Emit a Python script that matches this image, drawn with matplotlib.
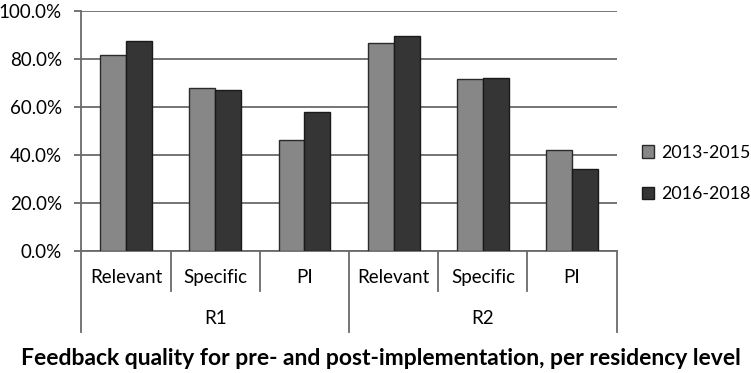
import numpy as np
import matplotlib
matplotlib.use("Agg")
import matplotlib.pyplot as plt
from matplotlib.ticker import PercentFormatter

plt.rcParams['font.family'] = ['Lato', 'DejaVu Sans']

# data
categories = ['Relevant', 'Specific', 'PI', 'Relevant', 'Specific', 'PI']
groups = ['R1', 'R2']
pre_2013_2015 = [0.817, 0.678, 0.461, 0.867, 0.714, 0.421]
post_2016_2018 = [0.875, 0.670, 0.578, 0.896, 0.722, 0.342]
series_names = ['2013-2015', '2016-2018']

fig = plt.figure(figsize=(7.51, 3.73), dpi=100)
ax = fig.add_axes([0.1083, 0.327, 0.7129, 0.6443])

x = np.arange(len(categories))
w = 0.29
ax.bar(x - w / 2, pre_2013_2015, w, color='#878787', edgecolor='#2a2a2a',
       linewidth=1.0, label=series_names[0], zorder=3)
ax.bar(x + w / 2, post_2016_2018, w, color='#353535', edgecolor='#1a1a1a',
       linewidth=1.0, label=series_names[1], zorder=3)

ax.set_xlim(-0.5, len(categories) - 0.5)
ax.set_ylim(0, 1.0)
ax.set_yticks(np.arange(0, 1.01, 0.2))
ax.yaxis.set_major_formatter(PercentFormatter(1.0, decimals=1))
ax.grid(axis='y', color='#6a6a6a', linewidth=1.3, zorder=0)
ax.tick_params(axis='y', length=5, width=1.3, color='#6a6a6a',
               labelsize=13.5, pad=9)
ax.set_xticks([])
for s in ['top', 'right']:
    ax.spines[s].set_visible(False)
ax.spines['left'].set_color('#6a6a6a')
ax.spines['left'].set_linewidth(1.3)
ax.spines['bottom'].set_color('#6a6a6a')
ax.spines['bottom'].set_linewidth(1.3)

# two-level category axis
tr = ax.get_xaxis_transform()
for b in np.arange(-0.5, len(categories), 1.0):
    outer = (b + 0.5) % 3 == 0
    ax.plot([b, b], [0, -0.336 if outer else -0.165], transform=tr,
            color='#6a6a6a', linewidth=1.3, clip_on=False)
for i, c in enumerate(categories):
    ax.text(i, -0.112, c, transform=tr, ha='center', va='center', fontsize=13.5)
for j, g in enumerate(groups):
    ax.text(3 * j + 1, -0.28, g, transform=tr, ha='center', va='center',
            fontsize=13.5)

ax.legend(loc='center left', bbox_to_anchor=(0.843, 0.535),
          bbox_transform=fig.transFigure, frameon=False, fontsize=12.8,
          handlelength=0.7, handleheight=0.7, handletextpad=0.35,
          labelspacing=1.45, borderpad=0)

fig.text(0.5067, 0.040, 'Feedback quality for pre- and post-implementation, per residency level',
         ha='center', va='center', fontsize=16.5, fontweight='bold')

fig.savefig('out.png', dpi=100)
